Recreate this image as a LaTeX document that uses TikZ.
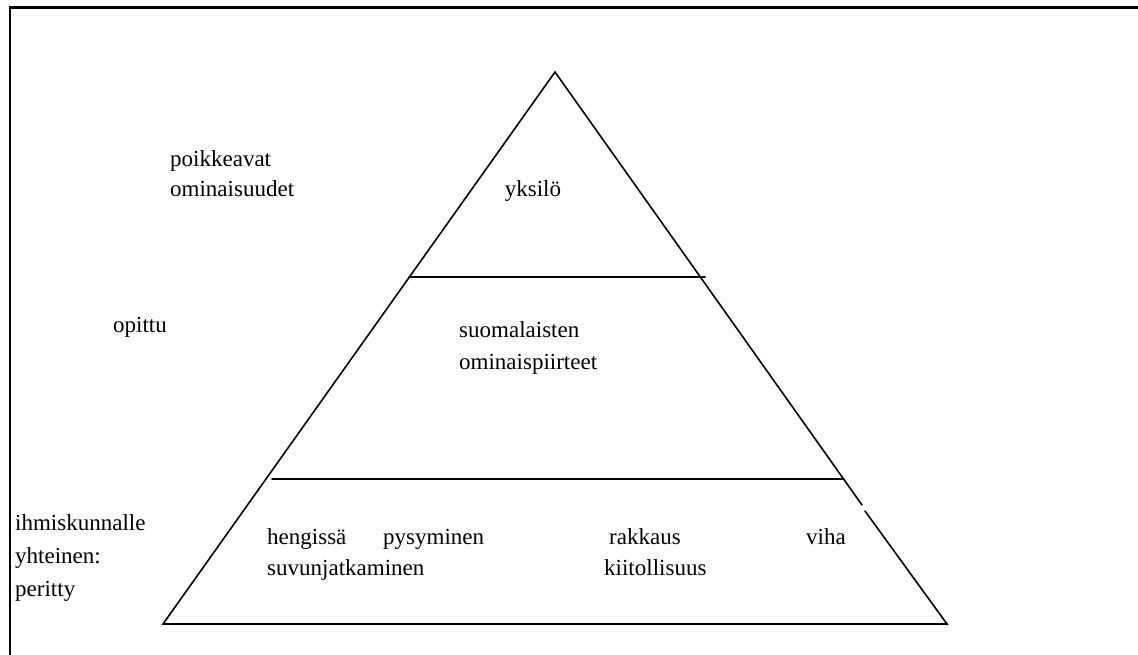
\documentclass[tikz,border=0pt]{standalone}
\usepackage{fontspec}
\setmainfont{Liberation Serif}
\begin{document}
\begin{tikzpicture}[x=1pt,y=-1pt,
  lbl/.style={anchor=base west,inner sep=0pt,font=\fontsize{23}{30}\selectfont},
  edge/.style={line width=1.6pt,line cap=round},
  framepen/.style={line width=2.4pt}]
\useasboundingbox (0,0) rectangle (1138,655);
% outer frame, running off the right and bottom edges
\draw[framepen] (10,700) -- (10,7.5) -- (1200,7.5);
% pyramid outline
\coordinate (apex) at (555,72);
\coordinate (bl) at (163,624);
\coordinate (br) at (947,624);
\coordinate (gapA) at (862,505);
\coordinate (gapB) at (865,511);
\draw[edge] (gapA) -- (apex) -- (bl) -- (br) -- (gapB);
% level dividers
\coordinate (d1l) at (409,277);
\coordinate (d1r) at (705,277);
\coordinate (d2l) at (272,479);
\coordinate (d2r) at (844,479);
\draw[edge] (d1l) -- (d1r);
\draw[edge] (d2l) -- (d2r);
% side labels
\node[lbl] (poik) at (170,167) {poikkeavat};
\node[lbl] (omin) at (170,197) {ominaisuudet};
\node[lbl] (opit) at (113,332) {opittu};
\node[lbl] (ihmi) at (15,530) {ihmiskunnalle};
\node[lbl] (yhte) at (15,563) {yhteinen:};
\node[lbl] (peri) at (15,596) {peritty};
% level contents
\node[lbl,anchor=base] (yksi) at (533,197) {yksilö};
\node[lbl] (suom) at (459,337) {suomalaisten};
\node[lbl] (ompi) at (459,369) {ominaispiirteet};
\node[lbl] (heng) at (267,544) {hengissä};
\node[lbl] (pysy) at (383,544) {pysyminen};
\node[lbl] (rakk) at (609,544) {rakkaus};
\node[lbl] (viha) at (806,544) {viha};
\node[lbl] (suvu) at (267,575) {suvunjatkaminen};
\node[lbl] (kiit) at (604,575) {kiitollisuus};
\end{tikzpicture}
\end{document}
